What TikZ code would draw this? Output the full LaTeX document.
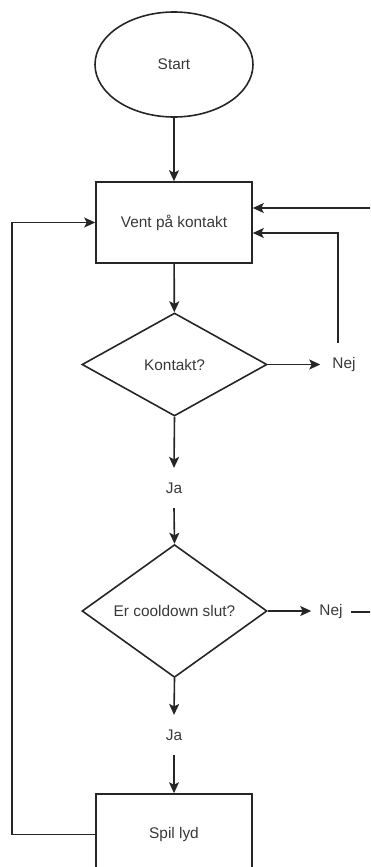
\documentclass[tikz,border=0pt]{standalone}
\usepackage{fontspec}
\setmainfont{Liberation Sans}
\usetikzlibrary{shapes.geometric,arrows.meta}
\begin{document}
\begin{tikzpicture}[x=1pt,y=-1pt,
  every node/.style={font=\fontsize{15.4}{18}\selectfont, text=black!78},
  line/.style={draw=black!85, line width=1.6pt},
  arr/.style={line, -{Stealth[length=11pt,width=10pt,inset=2.5pt]}},
  term/.style={ellipse, line, minimum width=158pt, minimum height=105pt, inner sep=0pt},
  proc/.style={rectangle, line, minimum width=156pt, minimum height=81pt, inner sep=0pt},
  dec/.style={diamond, line, minimum width=185pt, minimum height=103pt, inner sep=0pt},
  lbl/.style={inner sep=0pt}
]
\useasboundingbox (0,0) rectangle (370,867);
\clip (0,0) rectangle (370,867);

\node[term] (start) at (174,64.5) {Start};
\node[proc] (vent) at (174,222.5) {Vent på kontakt};
\node[dec] (d1) at (174.5,364.5) {Kontakt?};
\node[lbl, inner xsep=12pt] (nej1) at (344,365) {Nej};
\node[lbl, inner ysep=14.5pt] (ja1) at (174,488) {Ja};
\node[dec] (d2) at (174.5,611) {Er cooldown slut?};
\node[lbl, inner xsep=8pt] (nej2) at (331,612) {Nej};
\node[lbl, inner ysep=14.5pt] (ja2) at (174,735) {Ja};
\node[proc] (spil) at (174,834.5) {Spil lyd};

\coordinate (r1) at (376,208);
\coordinate (n1top) at (338,343);
\coordinate (n1corner) at (338,233);
\coordinate (r2) at (376,612);
\coordinate (lft) at (12,0);

\draw[arr] (start) -- (vent);
\draw[arr] (vent) -- (d1);
\draw[arr] (d1.east) -- (d1.east -| nej1.west);
\draw[arr] (d1.south) -- (ja1.north);
\draw[arr] (ja1.south) -- (d2.north);
\draw[arr] (d2.east) -- (d2.east -| nej2.west);
\draw[line] (nej2.east) -- (nej2.east -| r2);
\draw[arr] (d2.south) -- (ja2.north);
\draw[arr] (ja2.south) -- (spil.north);
\draw[arr] (r1) -- (r1 -| vent.east);
\draw[arr] (n1top) -- (n1corner) -- (n1corner -| vent.east);
\draw[arr] (spil.west) -- (spil.west -| lft) |- (vent.west);
\end{tikzpicture}
\end{document}
